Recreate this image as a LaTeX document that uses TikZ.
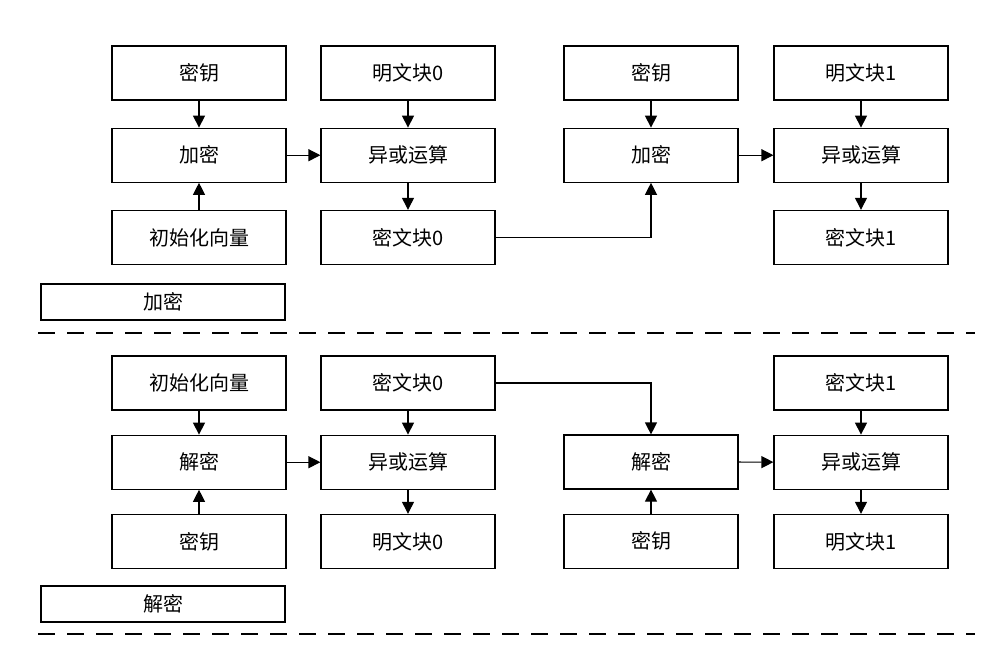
\documentclass[tikz,border=0pt]{standalone}
\usepackage{fontspec}
\newfontfamily\cjk{Noto Sans CJK SC}
\usetikzlibrary{positioning,arrows.meta}

\begin{document}
\begin{tikzpicture}[x=0.5pt,y=-0.5pt, node distance=13.5pt,
	box/.style = {shape=rectangle, draw, line width=0.6pt,
		minimum width=87pt, minimum height=27pt, inner sep=0pt,
		font=\cjk\fontsize{10}{12}\selectfont},
	tag/.style = {box, minimum width=122pt, minimum height=18pt},
	link/.style = {-{Triangle[length=6pt,width=6pt]}, line width=0.6pt},
	cut/.style = {line width=0.7pt, dash pattern=on 8.5pt off 6pt}]
	\useasboundingbox (0,0) rectangle (991,645);

	% encryption
	\node[box] (key0) at (199,73) {密钥};
	\node[box, below=of key0] (enc0) {加密};
	\node[box, below=of enc0] (iv0) {初始化向量};
	\node[box] (pt0) at (408,73) {明文块0};
	\node[box, below=of pt0] (xor0) {异或运算};
	\node[box, below=of xor0] (ct0) {密文块0};
	\node[box] (key1) at (651,73) {密钥};
	\node[box, below=of key1] (enc1) {加密};
	\node[box] (pt1) at (861,73) {明文块1};
	\node[box, below=of pt1] (xor1) {异或运算};
	\node[box, below=of xor1] (ct1) {密文块1};
	\node[tag] (enctag) at (163,302) {加密};

	\draw[link] (key0) -- (enc0);
	\draw[link] (iv0) -- (enc0);
	\draw[link] (enc0) -- (xor0);
	\draw[link] (pt0) -- (xor0);
	\draw[link] (xor0) -- (ct0);
	\draw[link] (ct0.east) -| (enc1.south);
	\draw[link] (key1) -- (enc1);
	\draw[link] (enc1) -- (xor1);
	\draw[link] (pt1) -- (xor1);
	\draw[link] (xor1) -- (ct1);

	\coordinate (cutA) at (38,333);
	\coordinate (cutB) at (975,333);
	\draw[cut] (cutA) -- (cutB);

	% decryption
	\node[box] (iv2) at (199,383) {初始化向量};
	\node[box, below=12pt of iv2] (dec0) {解密};
	\node[box, below=12pt of dec0] (key2) {密钥};
	\node[box] (ct2) at (408,383) {密文块0};
	\node[box, below=12pt of ct2] (xor2) {异或运算};
	\node[box, below=12pt of xor2] (pt2) {明文块0};
	\node[box] (dec1) at (651,462) {解密};
	\node[box, below=12pt of dec1] (key3) {密钥};
	\node[box] (ct3) at (861,383) {密文块1};
	\node[box, below=12pt of ct3] (xor3) {异或运算};
	\node[box, below=12pt of xor3] (pt3) {明文块1};
	\node[tag] (dectag) at (163,604) {解密};

	\draw[link] (iv2) -- (dec0);
	\draw[link] (key2) -- (dec0);
	\draw[link] (dec0) -- (xor2);
	\draw[link] (ct2) -- (xor2);
	\draw[link] (xor2) -- (pt2);
	\draw[link] (ct2.east) -| (dec1.north);
	\draw[link] (key3) -- (dec1);
	\draw[link] (dec1) -- (xor3);
	\draw[link] (ct3) -- (xor3);
	\draw[link] (xor3) -- (pt3);

	\coordinate (cutC) at (38,634);
	\coordinate (cutD) at (975,634);
	\draw[cut] (cutC) -- (cutD);
\end{tikzpicture}
\end{document}
